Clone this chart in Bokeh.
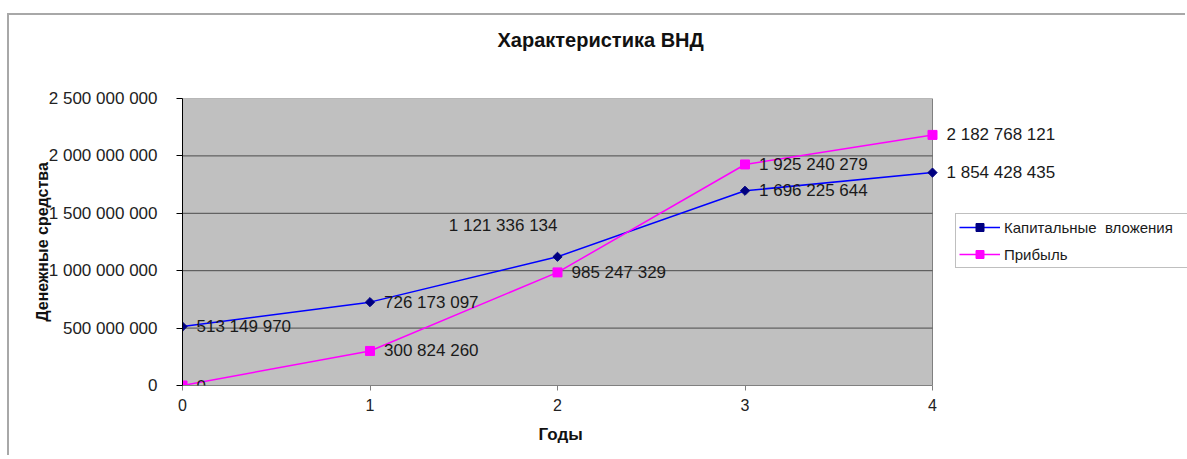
import math
from bokeh.plotting import figure
from bokeh.models import (ColumnDataSource, FixedTicker, CustomJSTickFormatter, Range1d,
                          Legend, LegendItem, LabelSet, Title)
from bokeh.core.properties import value
from bokeh.embed import file_html
from bokeh.resources import INLINE

# ---- data ----
years = [0, 1, 2, 3, 4]
capital = [513149970, 726173097, 1121336134, 1696225644, 1854428435]
profit = [0, 300824260, 985247329, 1925240279, 2182768121]
y_ticks = [0, 500000000, 1000000000, 1500000000, 2000000000, 2500000000]
series_names = ["Капитальные  вложения", "Прибыль"]
title_text = "Характеристика ВНД"
x_title = "Годы"
y_title = "Денежные средства"

# label placement (style)
cap_dx = [14, 14, 0, 14, 14]
cap_dy = [0, 0, 31, 0, 0]
cap_align = ["left", "left", "right", "left", "left"]
pro_dx = [14, 14, 14, 14, 14]
pro_dy = [0, 0, 0, 0, 0]
pro_align = ["left"] * 5


def fmt(v):
    return f"{v:,}".replace(",", " ")


FONT = "Liberation Sans"
W, H = 1178, 442
LEFT, TOP, BOTTOM = 173, 83, 72
PLOT_W = 750                       # width of the grey plot area in px
FRAME_W = W - LEFT                 # frame extends to the right edge (labels + legend)
x_end = years[-1] * FRAME_W / PLOT_W

p = figure(width=W, height=H, output_backend="svg", toolbar_location=None,
           x_range=Range1d(years[0], x_end), y_range=Range1d(y_ticks[0], y_ticks[-1]),
           min_border_left=LEFT, min_border_right=0, min_border_top=TOP,
           min_border_bottom=BOTTOM, title=None)
p.styles = {"border-top": "2px solid #a8a8a8", "border-left": "2px solid #a8a8a8",
            "margin-top": "13px", "margin-left": "7px"}

p.background_fill_color = "white"
p.border_fill_color = "white"
p.outline_line_color = None

# spacer between the grey area and the chart title, then the title itself
p.add_layout(Title(text=" ", text_font=FONT, text_font_size="10px", standoff=33), "above")
p.add_layout(Title(text=title_text, align="left", offset=315, vertical_align="top",
                   standoff=0, text_font=FONT, text_font_size="20px",
                   text_font_style="bold", text_color="#111111"), "above")

# axes
p.yaxis.ticker = FixedTicker(ticks=y_ticks)
p.yaxis.formatter = CustomJSTickFormatter(
    code="return tick.toFixed(0).replace(/\\B(?=(\\d{3})+(?!\\d))/g, ' ');")
p.yaxis.major_tick_out = 6
p.yaxis.major_tick_in = 0
p.yaxis.minor_tick_out = 0
p.yaxis.minor_tick_in = 0
p.yaxis.axis_line_color = "black"
p.yaxis.major_tick_line_color = "black"
p.yaxis.major_label_standoff = 19
p.yaxis.major_label_text_font = FONT
p.yaxis.major_label_text_font_size = "17px"
p.yaxis.major_label_text_color = "#222222"
p.yaxis.axis_label = y_title
p.yaxis.axis_label_text_font = FONT
p.yaxis.axis_label_text_font_size = "16px"
p.yaxis.axis_label_text_font_style = "bold"
p.yaxis.axis_label_text_color = "#111111"
p.yaxis.axis_label_standoff = -5

p.xaxis.ticker = FixedTicker(ticks=years)
p.xaxis.bounds = (years[0], years[-1])
p.xaxis.major_tick_out = 5
p.xaxis.major_tick_in = 0
p.xaxis.minor_tick_out = 0
p.xaxis.minor_tick_in = 0
p.xaxis.axis_line_color = "#808080"
p.xaxis.major_tick_line_color = "#808080"
p.xaxis.major_label_standoff = 8
p.xaxis.major_label_text_font = FONT
p.xaxis.major_label_text_font_size = "16px"
p.xaxis.major_label_text_color = "#222222"

# x-axis title, centred under the grey plot area
p.add_layout(Title(text=x_title, align="left", offset=356, standoff=18,
                   text_font=FONT, text_font_size="17px", text_font_style="bold",
                   text_color="#111111"), "below")

p.xgrid.visible = False
p.ygrid.visible = False

# grey plot area and its grid lines (spanning the category range only)
p.quad(left=[years[0]], right=[years[-1]], bottom=[y_ticks[0]], top=[y_ticks[-1]],
       fill_color="#C0C0C0", line_color="#808080", line_width=1)
grid_vals = y_ticks[1:-1]
p.segment(x0=[years[0]] * len(grid_vals), x1=[years[-1]] * len(grid_vals),
          y0=grid_vals, y1=grid_vals, line_color="#4a4a4a", line_width=1)

# series
src_c = ColumnDataSource(dict(x=years, y=capital, t=[fmt(v) for v in capital],
                              dx=cap_dx, dy=cap_dy, al=cap_align))
src_p = ColumnDataSource(dict(x=years, y=profit, t=[fmt(v) for v in profit],
                              dx=pro_dx, dy=pro_dy, al=pro_align))

lc = p.line("x", "y", source=src_c, line_color="#0000FF", line_width=1.5)
mc = p.scatter("x", "y", source=src_c, marker="square", size=6.5, angle=math.pi / 4,
               fill_color="#000080", line_color="#000080")
lp = p.line("x", "y", source=src_p, line_color="#FF00FF", line_width=1.5)
mp = p.scatter("x", "y", source=src_p, marker="square", size=9,
               fill_color="#FF00FF", line_color="#FF00FF")

for src in (src_c, src_p):
    p.add_layout(LabelSet(x="x", y="y", text="t", source=src, x_offset="dx", y_offset="dy",
                          text_align="al", text_baseline="middle", text_font=value(FONT),
                          text_font_size="17px", text_color="#1a1a1a"))

legend = Legend(items=[LegendItem(label=series_names[0], renderers=[lc, mc]),
                       LegendItem(label=series_names[1], renderers=[lp, mp])],
                location=(773, 117), orientation="vertical")
legend.background_fill_color = "white"
legend.background_fill_alpha = 1
legend.border_line_color = "#808080"
legend.border_line_width = 1
legend.label_text_font = FONT
legend.label_text_font_size = "15px"
legend.label_text_color = "#1a1a1a"
legend.glyph_width = 41
legend.glyph_height = 20
legend.label_standoff = 4
legend.spacing = 7
legend.padding = 3
legend.margin = 0
legend.label_width = 190
p.add_layout(legend, "center")

open("out.html", "w").write(file_html(p, INLINE))
